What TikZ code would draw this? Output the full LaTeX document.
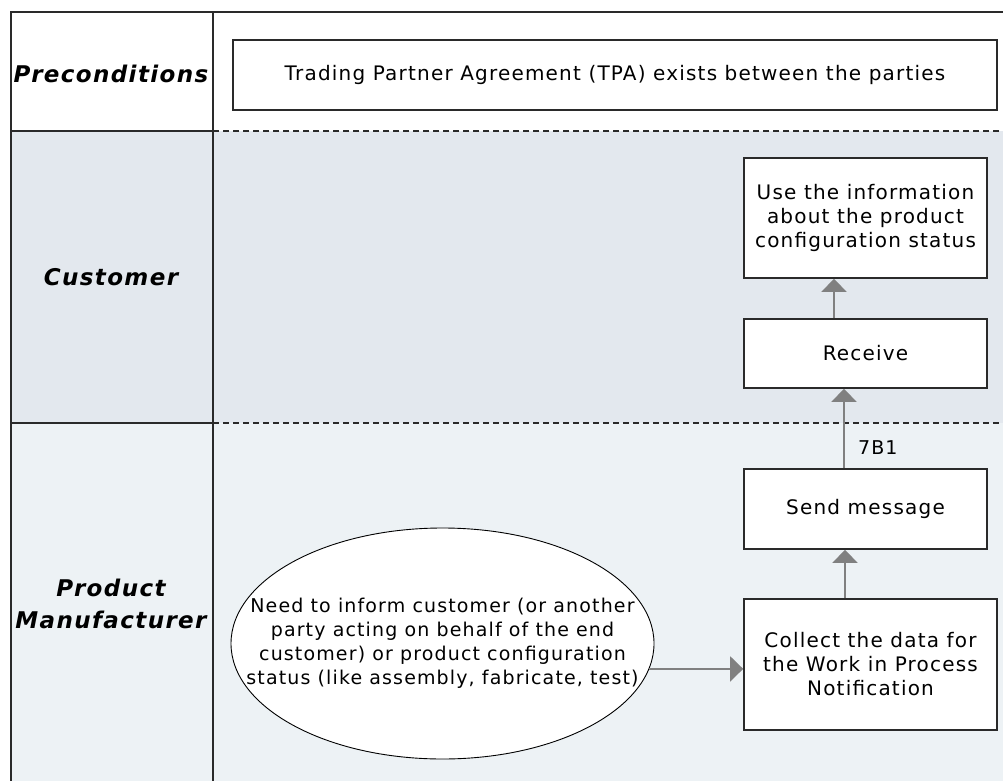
\documentclass[tikz,border=0pt]{standalone}
\usepackage{fontspec}
\setmainfont{DejaVu Sans}[LetterSpace=6]
\usetikzlibrary{arrows.meta,shapes.geometric}
\definecolor{custfill}{HTML}{E3E8EE}
\definecolor{prodfill}{HTML}{EDF2F5}
\definecolor{arrgray}{HTML}{808080}
\definecolor{edge}{HTML}{2A2A2A}
\tikzset{
  lane/.style={font=\fontsize{23}{32}\selectfont\bfseries\itshape, align=center},
  box/.style={draw=edge, line width=1.6pt, fill=white, align=center, inner sep=0pt,
     font=\fontsize{20}{24}\selectfont},
  txt/.style={align=center, inner sep=0pt, font=\fontsize{19}{24}\selectfont},
  arr/.style={draw=arrgray, line width=1.4pt, -{Triangle[width=25pt,length=13pt]}},
  frame/.style={draw=edge, line width=1.6pt},
  sep/.style={draw=edge, line width=1.3pt, dash pattern=on 6pt off 4pt}
}
\begin{document}
\begin{tikzpicture}[x=1pt,y=-1pt]
\useasboundingbox (0,0) rectangle (1003,781);
\fill[white] (0,0) rectangle (1003,781);
% lane fills
\fill[custfill] (11,131) rectangle (1003,423);
\fill[prodfill] (11,423) rectangle (1003,781);
% frame
\draw[frame] (1003,12) -- (11,12) -- (11,781);
\draw[frame] (213,12) -- (213,781);
\draw[frame] (11,131) -- (213,131);
\draw[frame] (11,423) -- (213,423);
\draw[sep] (213,131) -- (1003,131);
\draw[sep] (213,423) -- (1003,423);
% lane labels
\node[lane] (lpre) at (111,74) {Preconditions};
\node[lane] (lcust) at (111,277) {Customer};
\node[lane] (lprod) at (111,604) {Product\\Manufacturer};
% boxes
\node[box, minimum width=764pt, minimum height=70pt] (tpa) at (615,75)
  {Trading Partner Agreement (TPA) exists between the parties};
\node[box, minimum width=243pt, minimum height=120pt] (use) at (865.5,218)
  {Use the information\\about the product\\configuration status};
\node[box, minimum width=243pt, minimum height=69pt] (recv) at (865.5,353.5) {Receive};
\node[box, minimum width=243pt, minimum height=80pt] (send) at (865.5,509) {Send message};
\node[box, minimum width=253pt, minimum height=131pt] (coll) at (870.5,664.5)
  {Collect the data for\\the Work in Process\\Notification};
\node[ellipse, draw=black, line width=0.9pt, fill=white, inner sep=0pt,
  minimum width=423pt, minimum height=231pt] (need) at (442.5,643.5) {};
\node[txt] (needtxt) at (need.center)
  {Need to inform customer (or another\\party acting on behalf of the end\\customer) or product configuration\\status (like assembly, fabricate, test)};
% connectors
\draw[arr] (need.-7) -- (need.-7 -| coll.west);
\draw[arr] ([xshift=-25.5pt]coll.north) -- ([xshift=-25.5pt]coll.north |- send.south);
\draw[arr] ([xshift=-21.5pt]send.north) -- node[right, xshift=10pt, pos=0.26, font=\fontsize{19}{22}\selectfont] (lbl) {7B1} ([xshift=-21.5pt]send.north |- recv.south);
\draw[arr] ([xshift=-31.5pt]recv.north) -- ([xshift=-31.5pt]recv.north |- use.south);
\end{tikzpicture}
\end{document}
